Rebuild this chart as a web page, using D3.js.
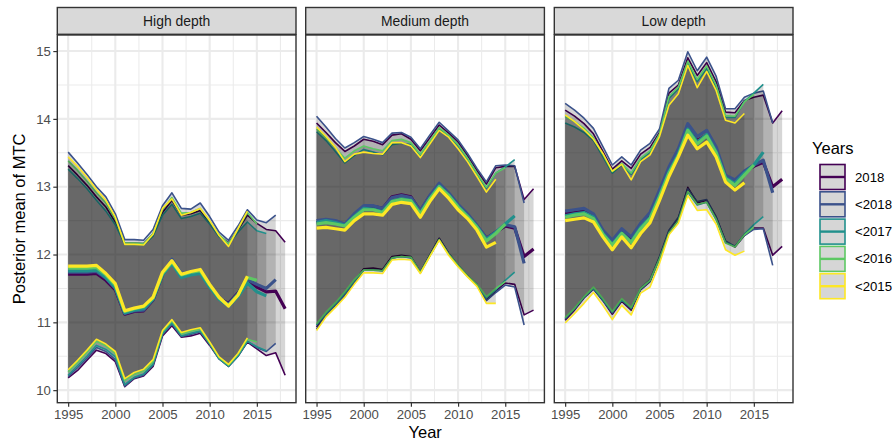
<!DOCTYPE html>
<html>
<head>
<meta charset="utf-8">
<script src="https://cdn.jsdelivr.net/npm/d3@7/dist/d3.min.js"></script>
<style>
  html, body { margin: 0; padding: 0; background: #ffffff; }
  svg { display: block; font-family: "Liberation Sans", Arial, Helvetica, sans-serif; }
</style>
</head>
<body>
<svg id="chart" width="896" height="443"></svg>
<script>
// ---- categories and ticks ----
const years = [1995,1996,1997,1998,1999,2000,2001,2002,2003,2004,2005,2006,
               2007,2008,2009,2010,2011,2012,2013,2014,2015,2016,2017,2018];
const facetNames = ["High depth", "Medium depth", "Low depth"];
const seriesNames = ["2018", "<2018", "<2017", "<2016", "<2015"];
const seriesColors = ["#440154", "#3B528B", "#21908C", "#5DC863", "#FDE725"];
const yearTicks = [1995, 2000, 2005, 2010, 2015];
const mtcTicks = [10, 11, 12, 13, 14, 15];

// ---- High depth: posterior upper bound / mean / lower bound per data vintage ----
const high_2018_upper = [13.31,13.17,13.02,12.85,12.70,12.48,12.17,12.17,12.16,12.30,12.62,12.80,12.58,12.60,12.65,12.47,12.28,12.17,12.36,12.58,12.46,12.37,12.35,12.18];
const high_2018_mean  = [11.71,11.71,11.71,11.72,11.62,11.48,11.12,11.16,11.17,11.33,11.70,11.90,11.70,11.73,11.76,11.54,11.35,11.28,11.43,11.62,11.52,11.45,11.46,11.20];
const high_2018_lower = [10.18,10.29,10.44,10.59,10.54,10.42,10.05,10.17,10.21,10.35,10.80,10.95,10.78,10.80,10.84,10.66,10.46,10.35,10.50,10.71,10.61,10.51,10.55,10.22];

const high_lt2018_upper = [13.51,13.35,13.18,13.00,12.85,12.60,12.22,12.22,12.21,12.37,12.72,12.91,12.68,12.67,12.76,12.56,12.33,12.21,12.42,12.66,12.51,12.47,12.58];
const high_lt2018_mean  = [11.74,11.74,11.74,11.75,11.65,11.50,11.13,11.17,11.18,11.34,11.72,11.93,11.72,11.74,11.78,11.55,11.35,11.27,11.42,11.63,11.56,11.50,11.63];
const high_lt2018_lower = [10.20,10.33,10.47,10.63,10.57,10.45,10.06,10.18,10.22,10.37,10.82,10.98,10.79,10.82,10.86,10.68,10.47,10.36,10.51,10.72,10.63,10.57,10.69];

const high_lt2017_upper = [13.26,13.12,12.97,12.80,12.64,12.44,12.15,12.15,12.14,12.27,12.58,12.74,12.53,12.56,12.61,12.45,12.26,12.15,12.33,12.48,12.35,12.31];
const high_lt2017_mean  = [11.76,11.76,11.76,11.77,11.66,11.51,11.14,11.18,11.20,11.34,11.70,11.87,11.66,11.70,11.72,11.52,11.34,11.24,11.38,11.58,11.45,11.39];
const high_lt2017_lower = [10.22,10.36,10.50,10.66,10.60,10.49,10.08,10.19,10.24,10.38,10.83,10.99,10.80,10.84,10.87,10.68,10.46,10.35,10.50,10.72,10.64,10.58];

const high_lt2016_upper = [13.38,13.24,13.08,12.91,12.76,12.52,12.17,12.17,12.16,12.31,12.66,12.84,12.61,12.62,12.68,12.49,12.29,12.16,12.37,12.62,12.45];
const high_lt2016_mean  = [11.80,11.80,11.80,11.81,11.70,11.55,11.16,11.20,11.23,11.36,11.72,11.89,11.70,11.74,11.76,11.55,11.36,11.25,11.41,11.66,11.62];
const high_lt2016_lower = [10.27,10.41,10.56,10.72,10.65,10.54,10.14,10.23,10.28,10.42,10.86,11.02,10.83,10.87,10.90,10.70,10.48,10.37,10.53,10.75,10.71];

const high_lt2015_upper = [13.44,13.30,13.14,12.96,12.80,12.55,12.15,12.15,12.14,12.30,12.68,12.82,12.58,12.62,12.68,12.50,12.28,12.12,12.38,12.64];
const high_lt2015_mean  = [11.83,11.83,11.83,11.84,11.72,11.57,11.17,11.21,11.24,11.37,11.74,11.91,11.71,11.75,11.78,11.56,11.37,11.24,11.40,11.68];
const high_lt2015_lower = [10.30,10.44,10.59,10.75,10.68,10.57,10.17,10.26,10.31,10.45,10.88,11.04,10.85,10.89,10.92,10.71,10.49,10.38,10.54,10.77];

// ---- Medium depth ----
const med_2018_upper = [13.94,13.80,13.65,13.52,13.60,13.70,13.67,13.62,13.76,13.78,13.70,13.53,13.72,13.91,13.79,13.66,13.46,13.24,13.04,13.28,13.30,13.30,12.81,12.97];
const med_2018_mean  = [12.47,12.50,12.47,12.43,12.58,12.70,12.71,12.68,12.85,12.88,12.85,12.64,12.86,13.03,12.89,12.72,12.58,12.42,12.24,12.33,12.42,12.39,11.97,12.08];
const med_2018_lower = [10.93,11.12,11.27,11.42,11.60,11.79,11.80,11.78,11.97,11.99,11.97,11.74,11.99,12.24,12.02,11.84,11.69,11.56,11.33,11.46,11.58,11.56,11.11,11.18];

const med_lt2018_upper = [14.04,13.88,13.71,13.57,13.65,13.74,13.70,13.65,13.79,13.80,13.73,13.56,13.76,13.95,13.82,13.69,13.49,13.27,13.07,13.31,13.32,13.31,12.76];
const med_lt2018_mean  = [12.50,12.52,12.50,12.45,12.60,12.72,12.72,12.68,12.84,12.87,12.84,12.65,12.87,13.05,12.91,12.74,12.60,12.43,12.24,12.33,12.44,12.41,11.87];
const med_lt2018_lower = [10.90,11.10,11.25,11.40,11.58,11.77,11.78,11.76,11.95,11.97,11.95,11.73,11.98,12.23,12.01,11.83,11.68,11.55,11.32,11.44,11.55,11.52,10.96];

const med_lt2017_upper = [13.81,13.68,13.52,13.35,13.46,13.55,13.51,13.47,13.62,13.64,13.62,13.45,13.64,13.85,13.75,13.61,13.41,13.18,12.98,13.20,13.29,13.40];
const med_lt2017_mean  = [12.47,12.50,12.47,12.43,12.56,12.68,12.67,12.63,12.79,12.82,12.80,12.61,12.83,13.01,12.88,12.71,12.57,12.41,12.22,12.33,12.45,12.57];
const med_lt2017_lower = [10.96,11.13,11.27,11.43,11.61,11.77,11.77,11.76,11.95,11.97,11.96,11.74,11.98,12.22,12.01,11.84,11.68,11.55,11.36,11.48,11.62,11.74];

const med_lt2016_upper = [13.85,13.72,13.57,13.42,13.53,13.60,13.56,13.53,13.68,13.70,13.65,13.48,13.67,13.87,13.76,13.62,13.42,13.20,12.99,13.20,13.28];
const med_lt2016_mean  = [12.45,12.47,12.45,12.42,12.55,12.66,12.66,12.62,12.78,12.81,12.79,12.60,12.82,13.00,12.87,12.70,12.56,12.40,12.20,12.31,12.45];
const med_lt2016_lower = [10.98,11.15,11.29,11.45,11.63,11.77,11.77,11.76,11.95,11.97,11.96,11.74,11.98,12.22,12.01,11.84,11.69,11.56,11.38,11.50,11.60];

const med_lt2015_upper = [13.88,13.74,13.58,13.37,13.48,13.51,13.49,13.48,13.65,13.65,13.60,13.43,13.63,13.83,13.73,13.56,13.37,13.15,12.92,13.11];
const med_lt2015_mean  = [12.39,12.40,12.38,12.36,12.50,12.60,12.60,12.58,12.74,12.77,12.75,12.55,12.78,12.97,12.83,12.66,12.53,12.36,12.11,12.18];
const med_lt2015_lower = [10.88,11.08,11.22,11.37,11.56,11.73,11.73,11.72,11.92,11.93,11.92,11.72,11.97,12.21,11.99,11.82,11.67,11.53,11.28,11.28];

// ---- Low depth ----
const low_2018_upper = [14.13,14.04,13.93,13.78,13.52,13.26,13.38,13.27,13.48,13.58,13.80,14.38,14.50,14.90,14.64,14.83,14.55,14.10,14.09,14.27,14.32,14.35,13.94,14.12];
const low_2018_mean  = [12.60,12.62,12.64,12.57,12.33,12.18,12.35,12.23,12.43,12.58,12.90,13.22,13.47,13.85,13.68,13.76,13.53,13.14,13.08,13.22,13.30,13.36,13.00,13.11];
const low_2018_lower = [11.03,11.18,11.36,11.49,11.32,11.12,11.31,11.18,11.48,11.60,11.95,12.34,12.53,12.99,12.76,12.80,12.55,12.19,12.11,12.28,12.39,12.39,11.99,12.12];

const low_lt2018_upper = [14.23,14.13,14.01,13.86,13.59,13.32,13.44,13.32,13.54,13.64,13.85,14.45,14.57,14.99,14.71,14.91,14.63,14.15,14.15,14.32,14.38,14.41,13.94];
const low_lt2018_mean  = [12.64,12.66,12.68,12.60,12.36,12.21,12.38,12.26,12.46,12.62,12.95,13.29,13.56,13.93,13.74,13.83,13.59,13.17,13.10,13.23,13.32,13.39,12.91];
const low_lt2018_lower = [11.05,11.20,11.38,11.50,11.33,11.14,11.33,11.20,11.50,11.63,11.97,12.36,12.55,12.97,12.78,12.81,12.56,12.20,12.12,12.28,12.37,12.38,11.84];

const low_lt2017_upper = [13.94,13.88,13.80,13.68,13.44,13.20,13.32,13.18,13.40,13.51,13.76,14.30,14.44,14.82,14.55,14.74,14.47,14.02,14.02,14.26,14.38,14.51];
const low_lt2017_mean  = [12.57,12.60,12.62,12.55,12.31,12.15,12.32,12.19,12.40,12.55,12.87,13.22,13.48,13.85,13.66,13.77,13.52,13.13,13.05,13.20,13.32,13.51];
const low_lt2017_lower = [11.06,11.20,11.37,11.50,11.33,11.15,11.33,11.21,11.49,11.61,11.93,12.31,12.50,12.92,12.73,12.77,12.52,12.18,12.12,12.30,12.44,12.56];

const low_lt2016_upper = [14.03,13.96,13.86,13.72,13.47,13.22,13.34,13.20,13.42,13.53,13.78,14.33,14.47,14.85,14.58,14.78,14.50,14.05,14.04,14.25,14.36];
const low_lt2016_mean  = [12.55,12.58,12.60,12.53,12.30,12.14,12.31,12.18,12.38,12.53,12.85,13.20,13.46,13.83,13.63,13.75,13.50,13.12,13.02,13.17,13.32];
const low_lt2016_lower = [11.07,11.21,11.38,11.52,11.35,11.16,11.35,11.22,11.50,11.62,11.94,12.32,12.50,12.93,12.74,12.77,12.52,12.17,12.11,12.29,12.40];

const low_lt2015_upper = [14.06,13.96,13.84,13.70,13.49,13.23,13.33,13.10,13.37,13.47,13.74,14.20,14.37,14.79,14.46,14.70,14.42,13.98,13.94,14.08];
const low_lt2015_mean  = [12.50,12.52,12.54,12.48,12.26,12.07,12.26,12.10,12.31,12.47,12.80,13.15,13.44,13.76,13.56,13.66,13.44,13.07,12.95,13.06];
const low_lt2015_lower = [10.99,11.13,11.28,11.44,11.25,11.04,11.25,11.11,11.43,11.52,11.87,12.29,12.46,12.87,12.65,12.66,12.45,12.07,11.99,12.05];

// ---- table of facets -> series (built from the arrays above) ----
const facetData = [
  [[high_2018_upper, high_2018_mean, high_2018_lower],
   [high_lt2018_upper, high_lt2018_mean, high_lt2018_lower],
   [high_lt2017_upper, high_lt2017_mean, high_lt2017_lower],
   [high_lt2016_upper, high_lt2016_mean, high_lt2016_lower],
   [high_lt2015_upper, high_lt2015_mean, high_lt2015_lower]],
  [[med_2018_upper, med_2018_mean, med_2018_lower],
   [med_lt2018_upper, med_lt2018_mean, med_lt2018_lower],
   [med_lt2017_upper, med_lt2017_mean, med_lt2017_lower],
   [med_lt2016_upper, med_lt2016_mean, med_lt2016_lower],
   [med_lt2015_upper, med_lt2015_mean, med_lt2015_lower]],
  [[low_2018_upper, low_2018_mean, low_2018_lower],
   [low_lt2018_upper, low_lt2018_mean, low_lt2018_lower],
   [low_lt2017_upper, low_lt2017_mean, low_lt2017_lower],
   [low_lt2016_upper, low_lt2016_mean, low_lt2016_lower],
   [low_lt2015_upper, low_lt2015_mean, low_lt2015_lower]]
];

// ---- layout ----
const svg = d3.select("#chart");
const panelLeft = [57.3, 305.7, 554.3];
const panelW = 238.7;
const panelTop = 35, panelBottom = 402.7;
const stripTop = 7.5;
const ribbonFill = "#000000", ribbonOpacity = 0.16;
const gridMajor = "#ebebeb";
const frame = "#333333";

const y = d3.scaleLinear().domain([9.815, 15.237]).range([panelBottom, panelTop]);
const yMinor = [10.5, 11.5, 12.5, 13.5, 14.5];
const xMinor = [1997.5, 2002.5, 2007.5, 2012.5, 2017.5];

facetNames.forEach((name, fi) => {
  const x0 = panelLeft[fi];
  const x = d3.scaleLinear().domain([1993.85, 2019.15]).range([x0, x0 + panelW]);
  const g = svg.append("g");

  const clipId = "clip" + fi;
  svg.append("clipPath").attr("id", clipId)
    .append("rect").attr("x", x0).attr("y", panelTop)
    .attr("width", panelW).attr("height", panelBottom - panelTop);

  // grid
  const grid = g.append("g");
  grid.selectAll(".ymin").data(yMinor).join("line")
    .attr("x1", x0).attr("x2", x0 + panelW)
    .attr("y1", d => y(d)).attr("y2", d => y(d))
    .attr("stroke", gridMajor).attr("stroke-width", 1.05);
  grid.selectAll(".xmin").data(xMinor).join("line")
    .attr("y1", panelTop).attr("y2", panelBottom)
    .attr("x1", d => x(d)).attr("x2", d => x(d))
    .attr("stroke", gridMajor).attr("stroke-width", 1.05);
  grid.selectAll(".ymaj").data(mtcTicks).join("line")
    .attr("x1", x0).attr("x2", x0 + panelW)
    .attr("y1", d => y(d)).attr("y2", d => y(d))
    .attr("stroke", gridMajor).attr("stroke-width", 2.1);
  grid.selectAll(".xmaj").data(yearTicks).join("line")
    .attr("y1", panelTop).attr("y2", panelBottom)
    .attr("x1", d => x(d)).attr("x2", d => x(d))
    .attr("stroke", gridMajor).attr("stroke-width", 2.1);

  const marks = g.append("g").attr("clip-path", `url(#${clipId})`);
  const series = facetData[fi];

  // ribbons with coloured outlines
  series.forEach((s, si) => {
    const [upper, mean, lower] = s;
    const area = d3.area()
      .x((d, i) => x(years[i]))
      .y0((d, i) => y(lower[i]))
      .y1(d => y(d));
    marks.append("path").datum(upper)
      .attr("d", area)
      .attr("fill", ribbonFill).attr("fill-opacity", ribbonOpacity)
      .attr("stroke", "none");
    const bound = d3.line().x((d, i) => x(years[i])).y(d => y(d));
    [upper, lower].forEach(arr => {
      marks.append("path").datum(arr).attr("d", bound)
        .attr("fill", "none").attr("stroke", seriesColors[si])
        .attr("stroke-width", 1.6).attr("stroke-linejoin", "round");
    });
  });

  // posterior mean lines
  series.forEach((s, si) => {
    const line = d3.line().x((d, i) => x(years[i])).y(d => y(d));
    marks.append("path").datum(s[1]).attr("d", line)
      .attr("fill", "none").attr("stroke", seriesColors[si])
      .attr("stroke-width", 3.2).attr("stroke-linejoin", "round");
  });

  // panel frame
  g.append("rect").attr("x", x0).attr("y", panelTop)
    .attr("width", panelW).attr("height", panelBottom - panelTop)
    .attr("fill", "none").attr("stroke", frame).attr("stroke-width", 1.4);

  // strip
  g.append("rect").attr("x", x0).attr("y", stripTop)
    .attr("width", panelW).attr("height", panelTop - stripTop - 0.7)
    .attr("fill", "#d9d9d9").attr("stroke", frame).attr("stroke-width", 1.4);
  g.append("text").attr("x", x0 + panelW / 2).attr("y", (stripTop + panelTop) / 2)
    .attr("text-anchor", "middle").attr("dominant-baseline", "central")
    .attr("font-size", 13.9).attr("fill", "#1a1a1a").text(name);

  // x axis
  const xAxis = g.append("g").attr("transform", `translate(0,${panelBottom})`)
    .call(d3.axisBottom(x).tickValues(yearTicks).tickFormat(d3.format("d"))
      .tickSize(4).tickPadding(2.5));
  xAxis.select(".domain").remove();
  xAxis.selectAll(".tick line").attr("stroke", frame).attr("stroke-width", 1.2);
  xAxis.selectAll(".tick text").attr("fill", "#4d4d4d")
    .attr("font-size", 13.2).attr("font-family", null);

  if (fi === 0) {
    const yAxis = g.append("g").attr("transform", `translate(${x0},0)`)
      .call(d3.axisLeft(y).tickValues(mtcTicks).tickFormat(d3.format("d"))
        .tickSize(4).tickPadding(2.5));
    yAxis.select(".domain").remove();
    yAxis.selectAll(".tick line").attr("stroke", frame).attr("stroke-width", 1.2);
    yAxis.selectAll(".tick text").attr("fill", "#4d4d4d")
      .attr("font-size", 13.2).attr("font-family", null);
  }
});

// axis titles
svg.append("text").attr("x", (panelLeft[0] + panelLeft[2] + panelW) / 2).attr("y", 438)
  .attr("text-anchor", "middle").attr("font-size", 16.5).attr("fill", "#000")
  .text("Year");
svg.append("text")
  .attr("transform", `translate(25,${(panelTop + panelBottom) / 2}) rotate(-90)`)
  .attr("text-anchor", "middle").attr("font-size", 16.5).attr("fill", "#000")
  .text("Posterior mean of MTC");

// legend
const legend = svg.append("g");
legend.append("text").attr("x", 812).attr("y", 154)
  .attr("font-size", 16.5).attr("fill", "#000").text("Years");
seriesNames.forEach((s, i) => {
  const ky = 164.5 + i * 27.3;
  legend.append("rect").attr("x", 820).attr("y", ky)
    .attr("width", 25).attr("height", 25)
    .attr("fill", ribbonFill).attr("fill-opacity", ribbonOpacity)
    .attr("stroke", seriesColors[i]).attr("stroke-width", 1.6);
  legend.append("line").attr("x1", 820).attr("x2", 845)
    .attr("y1", ky + 12.5).attr("y2", ky + 12.5)
    .attr("stroke", seriesColors[i]).attr("stroke-width", 2.4);
  legend.append("text").attr("x", 855).attr("y", ky + 12.5)
    .attr("dominant-baseline", "central")
    .attr("font-size", 13.2).attr("fill", "#000").text(s);
});
</script>
</body>
</html>
